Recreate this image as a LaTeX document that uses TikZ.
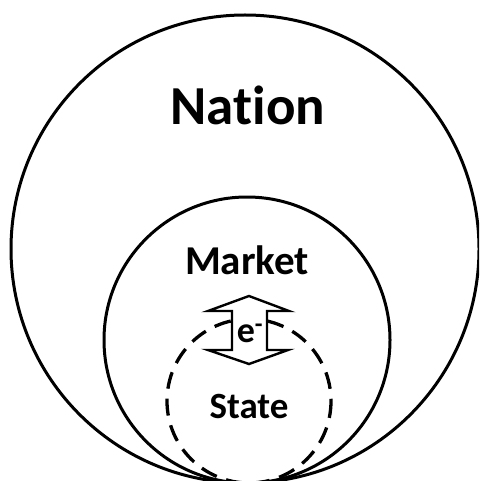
\documentclass[tikz,border=0pt]{standalone}
\usepackage{fontspec}
\setmainfont{Carlito}[Ligatures=CommonOff]
\begin{document}
\begin{tikzpicture}[x=1pt,y=-1pt,
  ring/.style={draw=black,line width=3pt},
  statering/.style={draw=black,line width=3.3pt,dash pattern=on 17pt off 10pt},
  lbl/.style={font=\bfseries,inner sep=0pt,anchor=base},
  blockarrow/.style={draw=black,fill=white,line width=2.4pt,line join=miter}]
\useasboundingbox (0,0) rectangle (479,481);
\fill[white] (0,0) rectangle (479,481);
\begin{scope}
\clip (0,0) rectangle (479,481);
\draw[ring] (245,249) circle[radius=234];
\draw[ring] (247,340) circle[radius=143];
\draw[statering] (249,401) circle[radius=82];
\end{scope}
\draw[blockarrow] (249,296) -- (289,311) -- (267,311) -- (267,350) -- (288,350) -- (249,364)
  -- (208,350) -- (232,350) -- (232,311) -- (208,311) -- cycle;
\node[lbl,font=\bfseries\fontsize{55}{55}\selectfont] (nation) at (248,125) {Nation};
\node[lbl,font=\bfseries\fontsize{41}{41}\selectfont] (market) at (247,274) {Market};
\node[lbl,font=\bfseries\fontsize{37}{37}\selectfont] (state) at (249,418) {State};
\node[lbl,font=\bfseries\fontsize{36}{36}\selectfont] (elec) at (250,342) {e\textsuperscript{-}};
\end{tikzpicture}
\end{document}
